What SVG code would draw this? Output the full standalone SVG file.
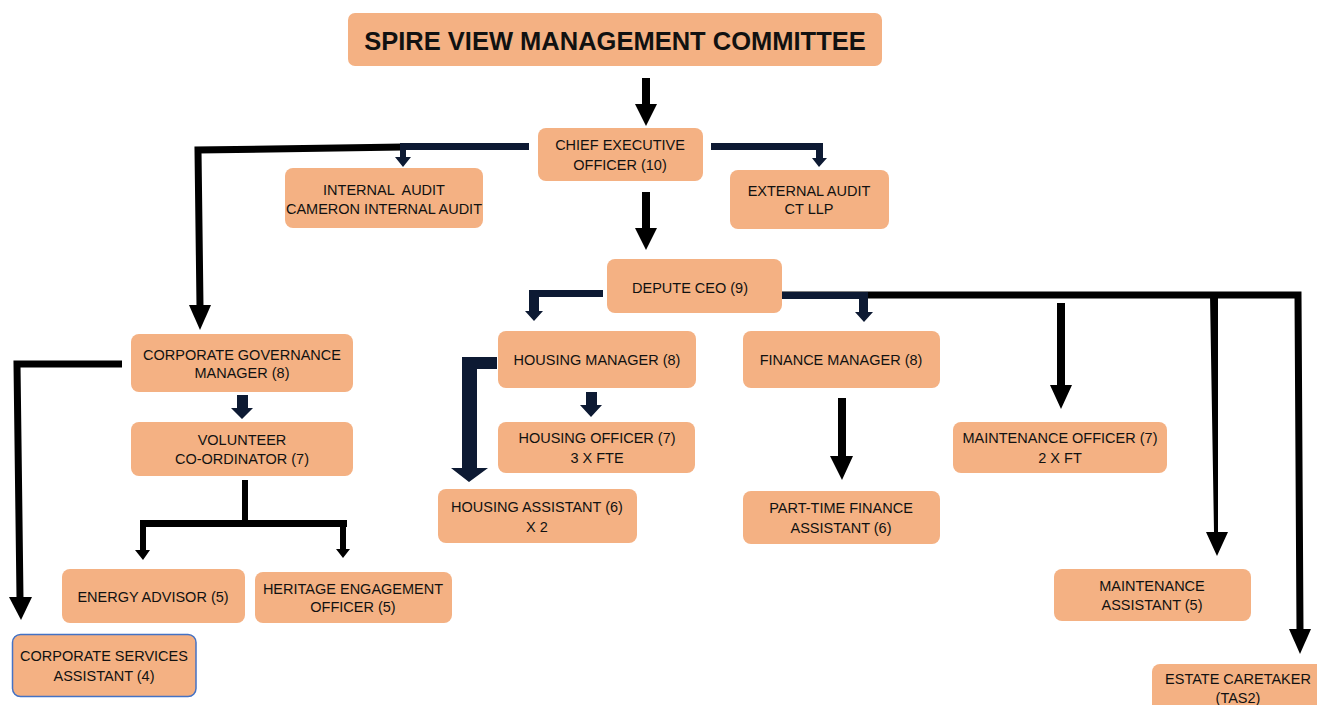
<svg xmlns="http://www.w3.org/2000/svg" width="1317" height="705" viewBox="0 0 1317 705">
<style>
.box{fill:#f4b183;}
.t{font-family:"Liberation Sans",Arial,sans-serif;font-size:14.5px;fill:#111;text-anchor:middle;}
.title{font-family:"Liberation Sans",Arial,sans-serif;font-size:25.5px;font-weight:bold;fill:#111;text-anchor:middle;}
.blk{fill:#000;}
.nav{fill:#0d1a33;}
.ln{fill:none;stroke:#000;stroke-width:7;stroke-linejoin:miter;}
</style>
<rect width="1317" height="705" fill="#fff"/>
<g id="connectors">
  <polygon class="blk" points="642,78 650,78 650,104 657,104 646,126 635,104 642,104"/>
  <polygon class="blk" points="642,192 650,192 650,228 657,228 646,250 635,228 642,228"/>
  <polyline class="ln" points="403,147 198,150 200,306"/>
  <polygon class="blk" points="189,305 211,305 200,330"/>
  <rect class="nav" x="400" y="143" width="129" height="7"/>
  <polygon class="nav" points="400,150 406,150 406,157 411,157 403,167 395,157 400,157"/>
  <polygon class="nav" points="711,143 823,143 823,158 827,158 819,167 812,158 816,158 816,150 711,150"/>
  <polygon class="nav" points="603,290 603,297 539,297 539,311 543,311 534,321 525,311 529,311 529,290"/>
  <polyline class="ln" points="782,295 1298,295 1300,630"/>
  <polygon class="blk" points="1289,629 1311,629 1300,654"/>
  <rect class="nav" x="782" y="292" width="86" height="7"/>
  <polygon class="nav" points="859,299 868,299 868,312 873,312 864,322 855,312 859,312"/>
  <polygon class="blk" points="1057,303 1065,303 1065,385 1072,385 1061,409 1050,385 1057,385"/>
  <polygon class="blk" points="1210,295 1218,295 1218,532 1228,532 1217,556 1206,532 1214,532"/>
  <polygon class="nav" points="586,392 597,392 597,405 602,405 591,417 580,405 586,405"/>
  <polygon class="nav" points="497,357 497,369 477,369 477,468 488,468 469,482 451,468 462,468 462,357"/>
  <polygon class="blk" points="838,398 846,398 846,456 853,456 842,480 830,456 838,456"/>
  <polygon class="nav" points="237,395 248,395 248,408 253,408 242,419 231,408 237,408"/>
  <rect class="blk" x="242" y="480" width="6" height="43"/>
  <rect class="blk" x="140" y="520" width="207" height="7"/>
  <polygon class="blk" points="140,520 146,520 146,550 150,550 143,560 135,550 140,550"/>
  <polygon class="blk" points="340,520 346,520 346,549 350,549 343,558 336,549 340,549"/>
  <polyline class="ln" points="122,364 17,364 20,598"/>
  <polygon class="blk" points="9,597 32,597 21,620"/>
</g>
<g id="committee"><rect class="box" x="348" y="13" width="534" height="53" rx="7"/><text class="title" x="615" y="50">SPIRE VIEW MANAGEMENT COMMITTEE</text></g>
<g id="ceo"><rect class="box" x="538" y="128" width="165" height="53" rx="8"/><text class="t" x="620" y="150">CHIEF EXECUTIVE</text><text class="t" x="620" y="170">OFFICER (10)</text></g>
<g id="internal-audit"><rect class="box" x="285" y="168" width="198" height="60" rx="8"/><text class="t" x="384" y="195" style="white-space:pre" xml:space="preserve">INTERNAL  AUDIT</text><text class="t" x="384" y="214">CAMERON INTERNAL AUDIT</text></g>
<g id="external-audit"><rect class="box" x="730" y="170" width="159" height="59" rx="8"/><text class="t" x="809" y="196">EXTERNAL AUDIT</text><text class="t" x="809" y="214">CT LLP</text></g>
<g id="depute-ceo"><rect class="box" x="607" y="259" width="175" height="54" rx="8"/><text class="t" x="690" y="293">DEPUTE CEO (9)</text></g>
<g id="housing-manager"><rect class="box" x="498" y="331" width="198" height="57" rx="8"/><text class="t" x="597" y="365">HOUSING MANAGER (8)</text></g>
<g id="finance-manager"><rect class="box" x="743" y="331" width="197" height="57" rx="8"/><text class="t" x="841" y="365">FINANCE MANAGER (8)</text></g>
<g id="housing-officer"><rect class="box" x="498" y="422" width="197" height="51" rx="8"/><text class="t" x="597" y="443">HOUSING OFFICER (7)</text><text class="t" x="597" y="463">3 X FTE</text></g>
<g id="housing-assistant"><rect class="box" x="438" y="489" width="199" height="54" rx="8"/><text class="t" x="537" y="512">HOUSING ASSISTANT (6)</text><text class="t" x="537" y="532">X 2</text></g>
<g id="part-time-finance"><rect class="box" x="743" y="491" width="197" height="53" rx="8"/><text class="t" x="841" y="513">PART-TIME FINANCE</text><text class="t" x="841" y="533">ASSISTANT (6)</text></g>
<g id="maintenance-officer"><rect class="box" x="953" y="422" width="214" height="51" rx="8"/><text class="t" x="1060" y="443">MAINTENANCE OFFICER (7)</text><text class="t" x="1060" y="463">2 X FT</text></g>
<g id="maintenance-assistant"><rect class="box" x="1054" y="569" width="197" height="52" rx="8"/><text class="t" x="1152" y="591">MAINTENANCE</text><text class="t" x="1152" y="610">ASSISTANT (5)</text></g>
<g id="estate-caretaker"><rect class="box" x="1152" y="664" width="175" height="50" rx="8"/><text class="t" x="1238" y="684">ESTATE CARETAKER</text><text class="t" x="1238" y="703">(TAS2)</text></g>
<g id="corporate-governance"><rect class="box" x="131" y="334" width="222" height="58" rx="8"/><text class="t" x="242" y="360">CORPORATE GOVERNANCE</text><text class="t" x="242" y="378">MANAGER (8)</text></g>
<g id="volunteer"><rect class="box" x="131" y="422" width="222" height="54" rx="8"/><text class="t" x="242" y="445">VOLUNTEER</text><text class="t" x="242" y="464">CO-ORDINATOR (7)</text></g>
<g id="energy-advisor"><rect class="box" x="62" y="569" width="183" height="54" rx="8"/><text class="t" x="153" y="602">ENERGY ADVISOR (5)</text></g>
<g id="heritage"><rect class="box" x="255" y="572" width="197" height="51" rx="8"/><text class="t" x="353" y="594">HERITAGE ENGAGEMENT</text><text class="t" x="353" y="612">OFFICER (5)</text></g>
<g id="corporate-services"><rect class="box" x="12.5" y="634.5" width="183.5" height="62" rx="8" stroke="#4472c4" stroke-width="1.5"/><text class="t" x="104" y="661">CORPORATE SERVICES</text><text class="t" x="104" y="681">ASSISTANT (4)</text></g>
</svg>
